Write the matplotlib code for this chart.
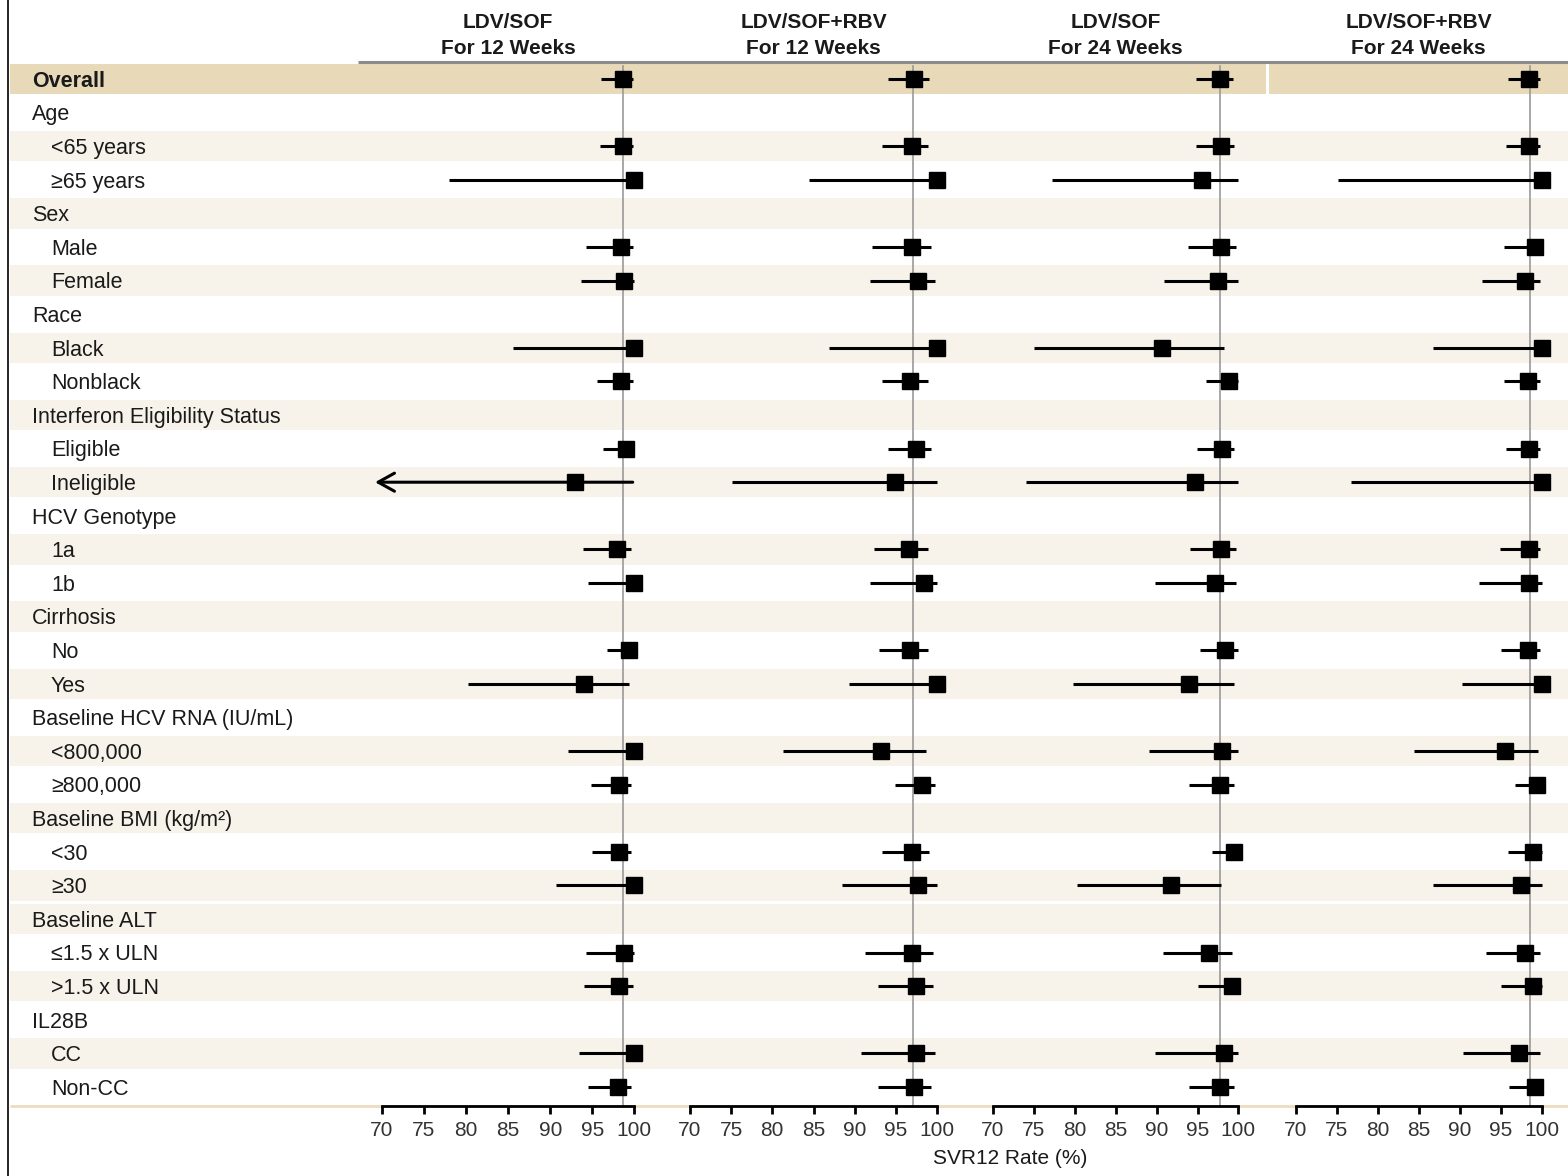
import numpy as np
import matplotlib.pyplot as plt

plt.rcParams['font.family'] = ['Liberation Sans', 'DejaVu Sans']

# rows top to bottom: 'all' = overall, 'head' = heading without estimate, 'sub' = subgroup
row_labels = ['Overall', 'Age', '<65 years', '≥65 years', 'Sex', 'Male', 'Female',
              'Race', 'Black', 'Nonblack', 'Interferon Eligibility Status', 'Eligible',
              'Ineligible', 'HCV Genotype', '1a', '1b', 'Cirrhosis', 'No', 'Yes',
              'Baseline HCV RNA (IU/mL)', '<800,000', '≥800,000', 'Baseline BMI (kg/m²)',
              '<30', '≥30', 'Baseline ALT', '≤1.5 x ULN', '>1.5 x ULN', 'IL28B', 'CC', 'Non-CC']
row_kind = ['all', 'head', 'sub', 'sub', 'head', 'sub', 'sub', 'head', 'sub', 'sub',
            'head', 'sub', 'sub', 'head', 'sub', 'sub', 'head', 'sub', 'sub',
            'head', 'sub', 'sub', 'head', 'sub', 'sub', 'head', 'sub', 'sub', 'head', 'sub', 'sub']
# background band of each row: t = tan, l = light, w = white
row_shade = ['t', 'w', 'l', 'w', 'l', 'w', 'l', 'w', 'l', 'w', 'l', 'w', 'l', 'w', 'l', 'w',
             'l', 'w', 'l', 'w', 'l', 'w', 'l', 'w', 'l', 'l', 'w', 'l', 'w', 'l', 'w']

panel_titles = [('LDV/SOF', 'For 12 Weeks'), ('LDV/SOF+RBV', 'For 12 Weeks'),
                ('LDV/SOF', 'For 24 Weeks'), ('LDV/SOF+RBV', 'For 24 Weeks')]
overall_rate = [98.6, 97.1, 97.8, 98.6]

# SVR12 (%) and 95% CI for the rows that carry an estimate (overall + subgroups)
est_ldv12 = [98.6, 98.6, 100, 98.4, 98.8, 100, 98.4, 99.0, 92.9, 97.9, 100,
             99.3, 94.0, 100, 98.2, 98.2, 100, 98.8, 98.2, 100, 98.1]
lo_ldv12 = [96.0, 95.9, 78.0, 94.3, 93.7, 85.6, 95.5, 96.3, 65.0, 93.9, 94.5,
            96.8, 80.2, 92.1, 94.8, 95.0, 90.7, 94.2, 94.0, 93.4, 94.5]
hi_ldv12 = [99.8, 99.8, 100, 99.8, 100, 100, 99.8, 100, 99.8, 99.6, 100,
            100, 99.3, 100, 99.6, 99.6, 100, 100, 99.8, 100, 99.6]

est_rbv12 = [97.2, 96.9, 100, 96.9, 97.7, 100, 96.7, 97.4, 94.9, 96.6, 98.4,
             96.7, 100, 93.2, 98.2, 97.0, 97.7, 96.9, 97.4, 97.4, 97.2]
lo_rbv12 = [94.1, 93.3, 84.5, 92.1, 91.9, 86.9, 93.3, 94.1, 75.1, 92.3, 91.9,
            92.9, 89.3, 81.3, 94.9, 93.3, 88.5, 91.3, 92.8, 90.8, 92.8]
hi_rbv12 = [99.0, 98.9, 100, 99.2, 99.7, 100, 98.9, 99.2, 100, 98.9, 100,
            98.9, 100, 98.7, 99.7, 99.0, 100, 99.5, 99.5, 99.7, 99.2]

est_ldv24 = [97.75, 97.9, 95.5, 97.9, 97.5, 90.7, 98.9, 98.0, 94.7, 97.9, 97.2,
             98.4, 93.9, 98.0, 97.7, 99.5, 91.8, 96.4, 99.2, 98.2, 97.7]
lo_ldv24 = [94.8, 94.8, 77.2, 93.8, 90.9, 75.0, 96.1, 94.9, 74.0, 94.1, 89.8,
            95.3, 79.8, 89.1, 93.9, 96.8, 80.3, 90.8, 95.1, 89.8, 93.9]
hi_ldv24 = [99.4, 99.5, 100, 99.7, 99.9, 98.2, 99.9, 99.5, 100, 99.7, 99.7,
            99.9, 99.5, 100, 99.5, 100, 97.9, 99.2, 100, 100, 99.5]

est_rbv24 = [98.5, 98.5, 100, 99.2, 98.0, 100, 98.35, 98.5, 100, 98.5, 98.5,
             98.3, 100, 95.5, 99.4, 98.9, 97.5, 98.0, 99.0, 97.2, 99.2]
lo_rbv24 = [95.9, 95.7, 75.2, 95.4, 92.7, 86.8, 95.4, 95.7, 76.7, 94.9, 92.4,
            95.05, 90.3, 84.4, 96.7, 95.9, 86.8, 93.2, 95.05, 90.4, 96.0]
hi_rbv24 = [99.85, 99.85, 100, 100, 99.85, 100, 99.85, 99.85, 100, 99.85, 100,
            99.85, 100, 99.5, 100, 100, 100, 99.85, 100, 99.85, 100]

panels = [(est_ldv12, lo_ldv12, hi_ldv12), (est_rbv12, lo_rbv12, hi_rbv12),
          (est_ldv24, lo_ldv24, hi_ldv24), (est_rbv24, lo_rbv24, hi_rbv24)]

x_ticks = [70, 75, 80, 85, 90, 95, 100]

# ---- layout (pixels of a 1568 x 1176 canvas) ----
W, H = 1568, 1176
row0_px, row_px = 79, 33.6          # centre of first row, row pitch
axis_px, top_px = 1106, 62          # x-axis line, header rule
panel_px = [(381.8, 634.4), (689.9, 937.1), (993.0, 1238.4), (1295.8, 1541.6)]

TAN = '#e8d9b9'
LIGHT = '#f8f3ea'
TXT = '#1a1a1a'

fig = plt.figure(figsize=(W / 100, H / 100), dpi=100)

rows = np.arange(len(row_labels))
data_rows = rows[[k != 'head' for k in row_kind]]

# background axes: x in pixels, y in row units
bg = fig.add_axes([0, 0, 1, 1])
bg.set_xlim(0, W)
bg.set_ylim((H - row0_px) / row_px, -row0_px / row_px)
bg.axis('off')

for r, shade in zip(rows, row_shade):
    if shade == 'l':
        bg.barh(r, W - 10, left=10, height=0.9, color=LIGHT, lw=0)
    elif shade == 't':
        bg.barh(r, 1266 - 10, left=10, height=0.9, color=TAN, lw=0)
        bg.barh(r, W - 1269, left=1269, height=0.9, color=TAN, lw=0)

for r, lab, kind in zip(rows, row_labels, row_kind):
    bg.text(51 if kind == 'sub' else 32, r + 0.07, lab, va='center', ha='left', fontsize=15.5,
            color=TXT, fontweight='bold' if kind == 'all' else 'normal')

axis_row = (axis_px - row0_px) / row_px
top_row = (top_px - row0_px) / row_px
bg.axvline(8, color='black', lw=1.2)
bg.hlines(top_row, 358, W, color='#8c8c8c', lw=2.2)
bg.hlines(axis_row, 10, W, color='#ecdcc0', lw=2)
bg.text(1010, (1159 - row0_px) / row_px, 'SVR12 Rate (%)', ha='center', va='center',
        fontsize=15, color=TXT)

# one axes per treatment arm
for (x0, x1), (est, lo, hi), ref, (t1, t2) in zip(panel_px, panels, overall_rate, panel_titles):
    ax = fig.add_axes([x0 / W, (H - axis_px) / H, (x1 - x0) / W, (axis_px - top_px) / H])
    ax.set_facecolor('none')
    ax.set_xlim(70, 100)
    ax.set_ylim(axis_row, top_row)
    for s in ['top', 'left', 'right']:
        ax.spines[s].set_visible(False)
    ax.spines['bottom'].set_linewidth(2)
    ax.set_yticks([])
    ax.set_xticks(x_ticks)
    ax.tick_params(axis='x', length=6, width=2, pad=5, labelsize=15, labelcolor='#333333')

    ax.axvline(ref, ymax=0.996, color='#9a9a9a', lw=1.2, zorder=1)

    est, lo, hi = np.array(est), np.array(lo), np.array(hi)
    inside = lo >= 70
    ax.hlines(data_rows[inside], lo[inside], hi[inside], color='black', lw=2.2,
              clip_on=False, zorder=2)
    for r, h in zip(data_rows[~inside], hi[~inside]):
        ax.annotate('', xy=(69.2, r), xytext=(h, r), annotation_clip=False,
                    arrowprops=dict(arrowstyle='->,head_length=0.9,head_width=0.5',
                                    mutation_scale=13, lw=2.2, color='black',
                                    shrinkA=0, shrinkB=0))
    ax.plot(est, data_rows, 's', ms=11.5, color='black', clip_on=False, zorder=3)

    ax.text(85, (23 - row0_px) / row_px, t1, ha='center', va='center',
            fontsize=15, fontweight='bold', color=TXT)
    ax.text(85, (49 - row0_px) / row_px, t2, ha='center', va='center',
            fontsize=15, fontweight='bold', color=TXT)

fig.savefig('out.png', dpi=100)
